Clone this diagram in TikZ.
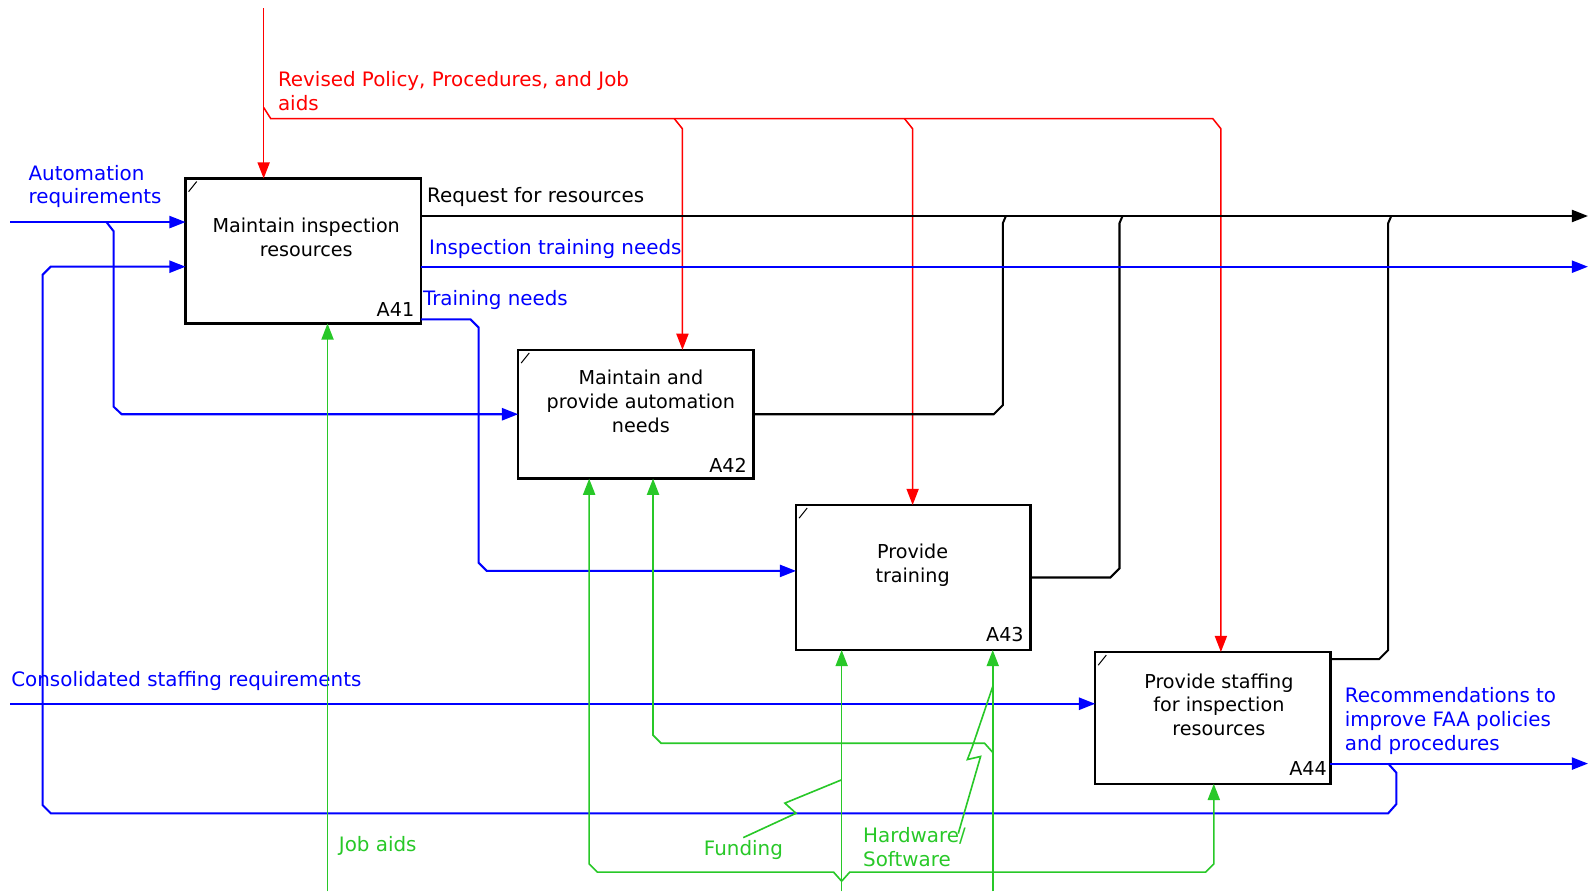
\documentclass[tikz,border=0pt]{standalone}
\usepackage{fontspec}
\setmainfont{DejaVu Sans}
\usetikzlibrary{arrows.meta}
\definecolor{ired}{RGB}{255,0,0}
\definecolor{iblue}{RGB}{0,0,255}
\definecolor{igreen}{RGB}{40,200,40}
\begin{document}
\begin{tikzpicture}[x=1pt,y=-1pt,
  lbl/.style={font=\fontsize{19.6}{23.5}\selectfont,inner sep=0pt,anchor=west,align=left},
  boxtext/.style={font=\fontsize{18.9}{23.5}\selectfont,inner sep=0pt,align=center},
  box/.style={draw=black,line width=2.5pt,inner sep=0pt,outer sep=0pt},
  arr/.style={-{Triangle[length=16pt,width=12pt]}},
  ctrl/.style={draw=ired,line width=1.5pt},
  outp/.style={draw=black,line width=2pt},
  inp/.style={draw=iblue,line width=2pt},
  mech/.style={draw=igreen,line width=1.6pt},
  tick/.style={draw=black,line width=1pt}]
\useasboundingbox (0,0) rectangle (1568,879);

% boxes
\node[box,minimum width=232pt,minimum height=143pt] (a41) at (299,247.5) {};
\node[box,minimum width=232pt,minimum height=127pt] (a42) at (627,408.5) {};
\node[box,minimum width=231pt,minimum height=143pt] (a43) at (900.5,569.5) {};
\node[box,minimum width=232pt,minimum height=130pt] (a44) at (1196,708) {};
\draw[tick] (a41.north west) ++(3,13) -- ++(8,-10);
\draw[tick] (a42.north west) ++(3,13) -- ++(8,-10);
\draw[tick] (a43.north west) ++(3,13) -- ++(8,-10);
\draw[tick] (a44.north west) ++(3,13) -- ++(8,-10);

\node[boxtext] (t41) at (302,234) {Maintain inspection\\resources};
\node[boxtext] (t42) at (632,396) {Maintain and\\provide automation\\needs};
\node[boxtext] (t43) at (900,557) {Provide\\training};
\node[boxtext] (t44) at (1202,695) {Provide staffing\\for inspection\\resources};
\node[boxtext] (n41) at (390,305) {A41};
\node[boxtext] (n42) at (718,459) {A42};
\node[boxtext] (n43) at (991,626) {A43};
\node[boxtext] (n44) at (1290,758) {A44};

% controls (red)
\coordinate (rtop) at (260,8);
\draw[ctrl,arr] (rtop) -- (rtop |- a41.north);
\draw[ctrl,arr] (260,106) -- (267,117) -- (1196,117) -- (1204,127) -- (1204,0 |- a44.north);
\draw[ctrl,arr] (665,117) -- (673,127) -- (673,0 |- a42.north);
\draw[ctrl,arr] (892,117) -- (900,127) -- (900,0 |- a43.north);
\node[lbl,text=ired] (lrev) at (274,90) {Revised Policy, Procedures, and Job\\aids};

% outputs (black)
\coordinate (reqout) at (1566,213);
\draw[outp,arr] (a41.east |- reqout) -- (reqout);
\draw[outp] (a42.east) -- (980,408.5) -- (989,399.5) -- (989,220) -- (992,213);
\draw[outp] (a43.east) -- (1095,569.5) -- (1104,560.5) -- (1104,220) -- (1107,213);
\draw[outp] (a44.east |- 0,650) -- (1360,650) -- (1369,641) -- (1369,220) -- (1372,213);
\node[lbl] (lreq) at (421,194) {Request for resources};

% inputs / outputs (blue)
\coordinate (autoin) at (10,219);
\draw[inp,arr] (autoin) -- (autoin -| a41.west);
\draw[inp,arr] (105,219) -- (112,228) -- (112,401) -- (120,408.5) -- (a42.west);
\node[lbl,text=iblue] (lauto) at (28,184) {Automation\\requirements};

\coordinate (itnout) at (1566,263);
\draw[inp,arr] (a41.east |- itnout) -- (itnout);
\node[lbl,text=iblue] (litn) at (423,246) {Inspection training needs};

\draw[inp,arr] (a41.east |- 0,315) -- (464,315) -- (472,323) -- (472,555) -- (480,563) -- (a43.west |- 0,563);
\node[lbl,text=iblue] (ltn) at (417,296) {Training needs};

\coordinate (consin) at (10,694);
\draw[inp,arr] (consin) -- (consin -| a44.west);
\node[lbl,text=iblue] (lcons) at (11,672) {Consolidated staffing requirements};

\coordinate (recout) at (1566,753);
\draw[inp,arr] (a44.east |- recout) -- (recout);
\draw[inp,arr] (1369,753) -- (1377,762) -- (1377,793) -- (1369,802) -- (50,802) -- (42,794) -- (42,271) -- (50,263) -- (a41.west |- 0,263);
\node[lbl,text=iblue] (lrec) at (1326,711) {Recommendations to\\improve FAA policies\\and procedures};

% mechanisms (green)
\coordinate (jobaids) at (323,879);
\draw[mech,arr] (jobaids) -- (jobaids |- a41.south);
\node[lbl,text=igreen] (ljob) at (334,834) {Job aids};

\coordinate (fund) at (830,879);
\draw[mech,arr] (fund) -- (fund |- a43.south);
\draw[mech,arr] (830,869) -- (822,860) -- (589,860) -- (581,852) -- (581,0 |- a42.south);
\draw[mech,arr] (830,869) -- (838,860) -- (1189,860) -- (1197,852) -- (1197,0 |- a44.south);
\draw[mech] (733,826) -- (785,802) -- (774,792) -- (830,769);
\node[lbl,text=igreen] (lfund) at (694,838) {Funding};

\coordinate (hw) at (979,879);
\draw[mech,arr] (hw) -- (hw |- a43.south);
\draw[mech,arr] (979,742) -- (971,733) -- (652,733) -- (644,725) -- (644,0 |- a42.south);
\draw[mech] (945,822) -- (967,746) -- (954,749) -- (959,736) -- (979,677);
\node[lbl,text=igreen] (lhw) at (851,835) {Hardware/\\Software};
\end{tikzpicture}
\end{document}
